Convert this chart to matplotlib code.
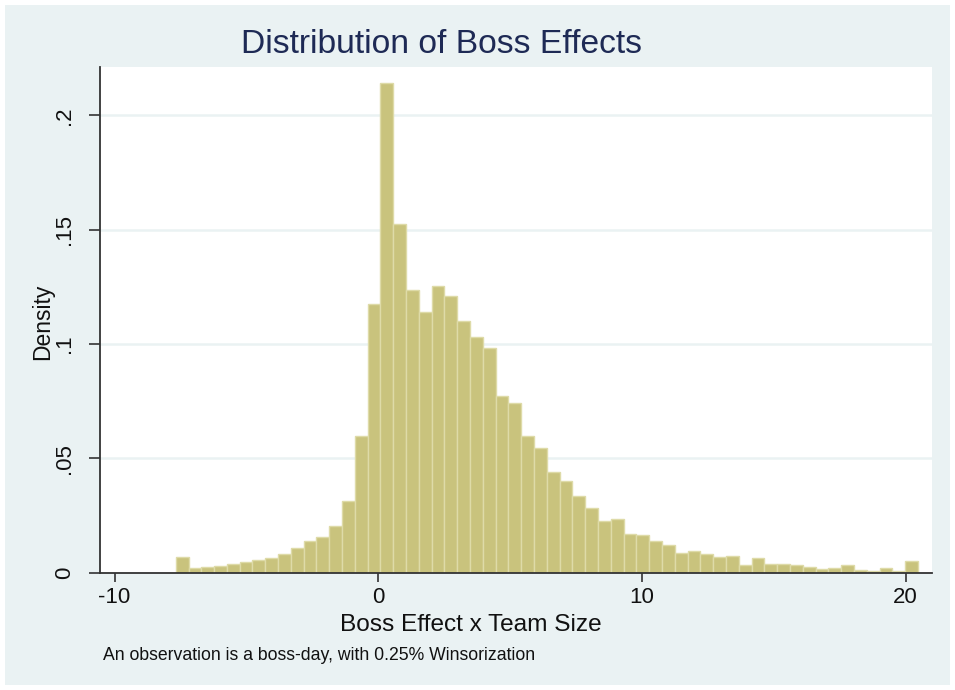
import numpy as np
import matplotlib
matplotlib.use("Agg")
import matplotlib.pyplot as plt
from matplotlib.patches import Rectangle

plt.rcParams['font.family'] = ['Liberation Sans', 'DejaVu Sans']

# histogram: 58 equal bins between bin_lo and bin_hi
bin_lo = -7.68
bin_hi = 20.47
density = [
    0.0067, 0.0019, 0.0022, 0.0027, 0.0037, 0.0047, 0.0055, 0.0064, 0.0081, 0.0108,
    0.0138, 0.0155, 0.0204, 0.0311, 0.0599, 0.1176, 0.2143, 0.1526, 0.1235, 0.1139,
    0.1253, 0.1208, 0.1100, 0.1032, 0.0984, 0.0772, 0.0742, 0.0599, 0.0544, 0.0439,
    0.0399, 0.0333, 0.0281, 0.0226, 0.0232, 0.0168, 0.0162, 0.0136, 0.0120, 0.0085,
    0.0095, 0.0080, 0.0066, 0.0074, 0.0034, 0.0063, 0.0036, 0.0036, 0.0034, 0.0025,
    0.0017, 0.0019, 0.0031, 0.0012, 0.0006, 0.0019, 0.0006, 0.0051,
]
xticks = [-10, 0, 10, 20]
yticks = [0, 0.05, 0.1, 0.15, 0.2]
ytick_labels = ['0', '.05', '.1', '.15', '.2']

BG = '#EAF2F3'
W, H = 955, 690

fig = plt.figure(figsize=(W / 100, H / 100), dpi=100, facecolor='white')
# stata-like outer panel, drawn behind the axes
fig.patches.append(Rectangle((5 / W, 5 / H), 1 - 10 / W, 1 - 10 / H,
                             transform=fig.transFigure, facecolor=BG,
                             edgecolor='none', zorder=-10))

ax = fig.add_axes([99.5 / W, 1 - 572.5 / H, (931.7 - 99.5) / W, (572.5 - 67.4) / H])
ax.set_facecolor('white')

edges = np.linspace(bin_lo, bin_hi, len(density) + 1)
ax.bar(edges[:-1], density, width=np.diff(edges), align='edge',
       color='#C9C37D', edgecolor='#DEDBA8', linewidth=1.0, zorder=2)

ax.set_xlim(-10.57, 20.99)
ax.set_ylim(0, 0.221)

ax.set_xticks(xticks)
ax.set_xticklabels([str(t) for t in xticks])
ax.set_yticks(yticks)
ax.set_yticklabels(ytick_labels, rotation=90, va='center')

ax.set_axisbelow(True)
ax.yaxis.grid(True, color=BG, linewidth=1.8)
ax.xaxis.grid(False)

for s in ['top', 'right']:
    ax.spines[s].set_visible(False)
for s in ['left', 'bottom']:
    ax.spines[s].set_color('#333333')
    ax.spines[s].set_linewidth(1.3)
    ax.spines[s].set_zorder(3)

ax.tick_params(axis='x', length=6.5, width=1.2, color='#333333', pad=3.8,
               labelsize=16, labelcolor='#111111')
ax.tick_params(axis='y', length=8, width=1.2, color='#333333', pad=9.4,
               labelsize=16, labelcolor='#111111')

fig.text(441 / W, 1 - 53.3 / H, 'Distribution of Boss Effects', fontsize=24.2,
         color='#1E2A55', ha='center', va='baseline')
fig.text(43 / W, 1 - 322 / H, 'Density', fontsize=16.5, color='#111111',
         rotation=90, ha='center', va='center')
fig.text(471 / W, 1 - 630.7 / H, 'Boss Effect x Team Size', fontsize=17.6,
         color='#111111', ha='center', va='baseline')
fig.text(103.3 / W, 1 - 660 / H, 'An observation is a boss-day, with 0.25% Winsorization',
         fontsize=12.7, color='#111111', ha='left', va='baseline')

fig.savefig('out.png', dpi=100, facecolor=fig.get_facecolor())
